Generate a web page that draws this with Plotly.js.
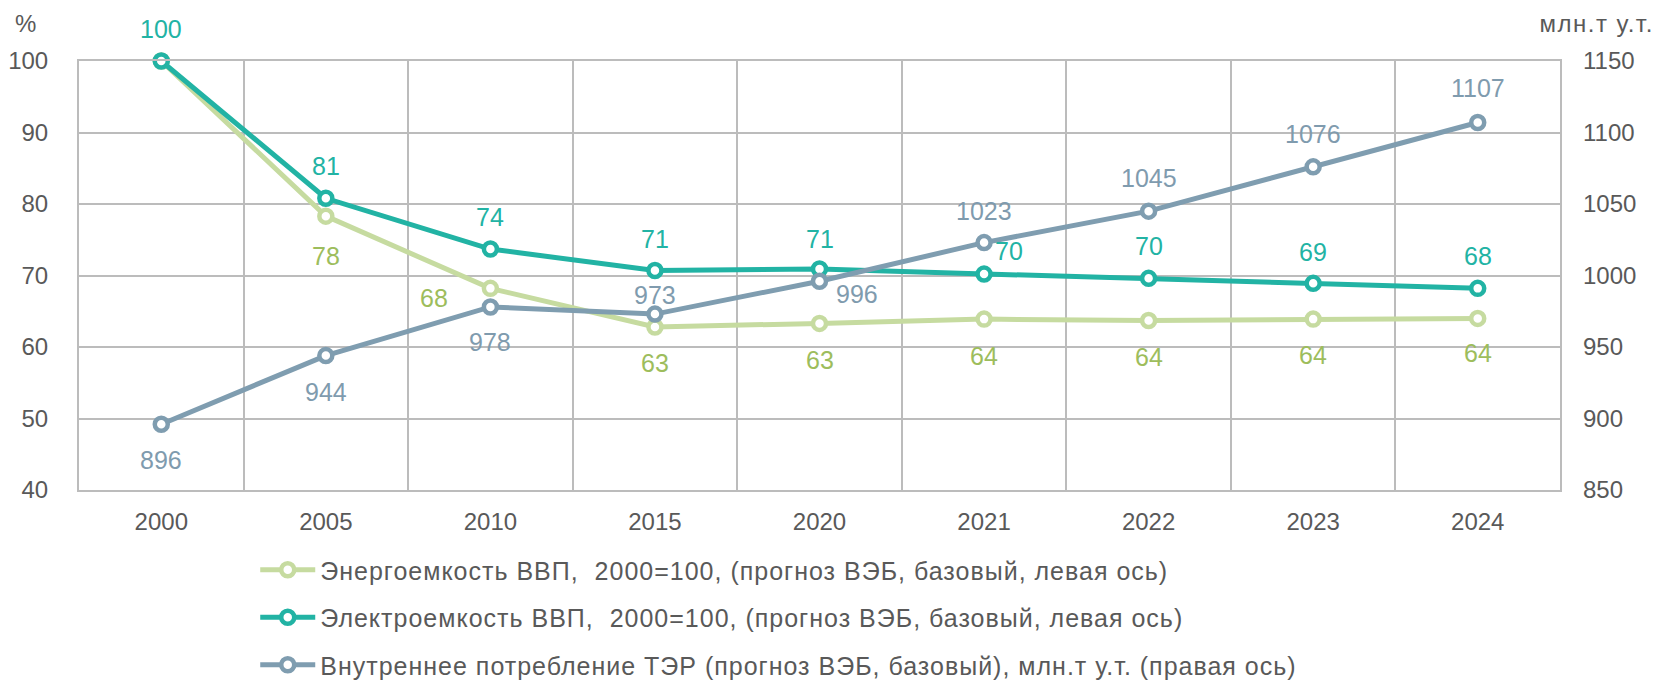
<!DOCTYPE html>
<html>
<head>
<meta charset="utf-8">
<script src="https://cdn.plot.ly/plotly-3.0.1.min.js"></script>
<style>
html,body{margin:0;padding:0;background:#fff;}
#chart{width:1659px;height:683px;}
.legendtext{letter-spacing:1px;}
</style>
</head>
<body>
<div id="chart"></div>
<script>
// ---- data ----
const years = ['2000','2005','2010','2015','2020','2021','2022','2023','2024'];
const energyIntensity = [100, 78.3, 68.2, 62.8, 63.3, 63.9, 63.7, 63.9, 64.0];
const electroIntensity = [100, 80.8, 73.7, 70.7, 70.9, 70.2, 69.6, 68.9, 68.2];
const consumption = [896, 944, 978, 973, 996, 1023, 1045, 1076, 1107];
const seriesNames = [
  'Энергоемкость ВВП,  2000=100, (прогноз ВЭБ, базовый, левая ось)',
  'Электроемкость ВВП,  2000=100, (прогноз ВЭБ, базовый, левая ось)',
  'Внутреннее потребление ТЭР (прогноз ВЭБ, базовый), млн.т у.т. (правая ось)'
];
const leftUnit = '%';
const rightUnit = 'млн.т у.т.';

// ---- styling ----
const FONT = 'Liberation Sans, Arial, sans-serif';
const cGreenLine = '#c6dba0', cGreenText = '#9dbd5c';
const cTeal = '#22b3a4';
const cGray = '#7f9db0', cGrayText = '#7f9bae';
const gridC = '#bcbcbc';

// label offsets [xshift, yshift] per point (px)
const energyOff = [null,[0,-40],[-56,-10],[0,-36],[0,-37],[0,-37],[0,-36],[0,-36],[0,-35]];
const electroOff = [[0,32],[0,32],[0,32],[0,31],[0,30],[25,23],[0,32],[0,31],[0,32]];
const consOff = [[0,-36],[0,-36],[0,-35],[0,19],[37,-13],[0,32],[0,33],[0,33],[0,34]];

function mk(name, y, axis, lineC, group){
  return {
    type:'scatter', mode:'lines+markers', name:name, x:years, y:y, yaxis:axis,
    legendgroup:group,
    line:{color:lineC, width:5},
    marker:{symbol:'circle', size:13, color:'#ffffff', line:{color:lineC, width:4.5}},
    cliponaxis:false, hoverinfo:'skip'
  };
}
const traces = [
  mk(seriesNames[0], energyIntensity, 'y', cGreenLine, 'g1'),
  mk(seriesNames[1], electroIntensity, 'y', cTeal, 'g2'),
  mk(seriesNames[2], consumption, 'y2', cGray, 'g3')
];

const annotations = [];
function addLabels(vals, offs, yref, color){
  vals.forEach((v,i)=>{
    if(!offs[i]) return;
    annotations.push({x:i, y:v, xref:'x', yref:yref, text:String(Math.round(v)),
      showarrow:false, xshift:offs[i][0], yshift:offs[i][1], yanchor:'middle',
      font:{family:FONT, size:25, color:color}});
  });
}
addLabels(energyIntensity, energyOff, 'y', cGreenText);
addLabels(electroIntensity, electroOff, 'y', cTeal);
addLabels(consumption, consOff, 'y2', cGrayText);
annotations.push({text:leftUnit, xref:'paper', yref:'paper', x:0, xshift:-54, y:1.0, yshift:38, xanchor:'center', yanchor:'middle', showarrow:false,
  font:{family:FONT, size:24, color:'#595959'}});
annotations.push({text:rightUnit, xref:'paper', yref:'paper', x:1.0, xshift:88, y:1.0, yshift:38, xanchor:'right', yanchor:'middle', showarrow:false,
  font:{family:FONT, size:24, color:'#595959'}});

const layout = {
  width:1659, height:683,
  margin:{l:79, r:99, t:61, b:193, autoexpand:false},
  paper_bgcolor:'#ffffff', plot_bgcolor:'#ffffff',
  font:{family:FONT, color:'#595959'},
  showlegend:true,
  legend:{orientation:'v', x:0.119, xanchor:'left', y:-0.133, yanchor:'top',
    font:{family:FONT, size:25, color:'#595959'}, tracegroupgap:12, itemwidth:55, traceorder:'grouped'},
  xaxis:{type:'category', range:[-0.5, 8.5], tickson:'boundaries', showgrid:true, gridcolor:gridC, gridwidth:2,
    showline:true, mirror:true, linecolor:gridC, linewidth:2, ticks:'', ticklabelstandoff:9, tickangle:0,
    tickfont:{family:FONT, size:24, color:'#595959'}},
  yaxis:{range:[40,100], dtick:10, showgrid:true, gridcolor:gridC, gridwidth:2, zeroline:false,
    showline:true, mirror:true, linecolor:gridC, linewidth:2, ticks:'', ticklabelstandoff:24,
    tickfont:{family:FONT, size:24, color:'#595959'}},
  yaxis2:{range:[850,1150], dtick:50, overlaying:'y', side:'right', showgrid:false, zeroline:false,
    showline:false, ticks:'', ticklabelstandoff:22,
    tickfont:{family:FONT, size:24, color:'#595959'}},
  annotations:annotations
};
Plotly.newPlot('chart', traces, layout, {displayModeBar:false, staticPlot:true}).then(()=>{
  document.querySelectorAll('#chart .annotation-text').forEach(t=>{
    if(t.textContent===rightUnit) t.style.letterSpacing='1.5px';
  });
});
</script>
</body>
</html>
